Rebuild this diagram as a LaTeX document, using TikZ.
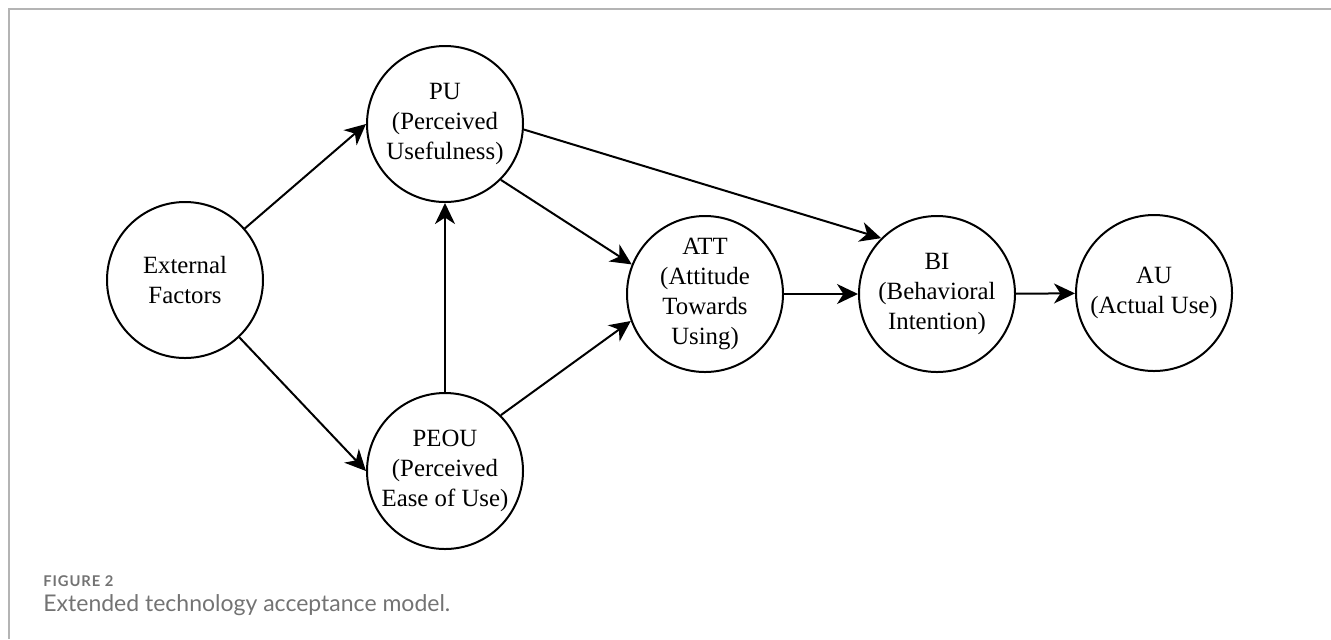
\documentclass[tikz,border=0pt]{standalone}
\usepackage{fontspec}
\setmainfont{Liberation Serif}
\newfontfamily\capfont{Lato}
\newfontfamily\capfontsp[LetterSpace=6]{Lato}
\usetikzlibrary{arrows.meta}
\definecolor{framegray}{HTML}{B4B4B4}
\definecolor{capgray}{HTML}{737373}
\tikzset{
  construct/.style={circle, draw=black, line width=1pt, minimum size=78pt, inner sep=0pt,
    align=center, font=\fontsize{12.4}{15}\selectfont},
  link/.style={line width=1pt, -{Stealth[length=10.5pt,width=10pt,inset=3.2pt]}},
  frame/.style={draw=framegray, line width=1pt},
  captitle/.style={anchor=base west, inner sep=0pt, text=capgray, font=\capfontsp\bfseries\fontsize{7.4}{9}\selectfont},
  captext/.style={anchor=base west, inner sep=0pt, text=capgray, font=\capfont\fontsize{11.5}{14}\selectfont}
}
\begin{document}
\begin{tikzpicture}[x=0.5pt,y=-0.5pt]
\useasboundingbox (0,0) rectangle (1331,639);
\coordinate (fA) at (1331,9);
\coordinate (fB) at (9,9);
\coordinate (fC) at (9,639);
\draw[frame] (fA) -- (fB) -- (fC);

\node[construct] (ext) at (185,280) {External\\Factors};
\node[construct] (pu) at (445,124) {PU\\(Perceived\\Usefulness)};
\node[construct] (peou) at (445,471) {PEOU\\(Perceived\\Ease of Use)};
\node[construct] (att) at (705,294) {ATT\\(Attitude\\Towards\\Using)};
\node[construct] (bi) at (937,294) {BI\\(Behavioral\\Intention)};
\node[construct] (au) at (1154,293) {AU\\(Actual Use)};

\draw[link] (ext) -- (pu.west);
\draw[link] (ext) -- (peou.west);
\draw[link] (peou) -- (pu);
\draw[link] (pu.-45) -- (att.158);
\draw[link] (peou.45) -- (att.200);
\draw[link] (pu.-4) -- (bi.135);
\draw[link] (att) -- (bi);
\draw[link] (bi) -- (au);

\node[captitle] (fig) at (43,586) {FIGURE 2};
\node[captext] (cap) at (43,611) {Extended technology acceptance model.};
\end{tikzpicture}
\end{document}
